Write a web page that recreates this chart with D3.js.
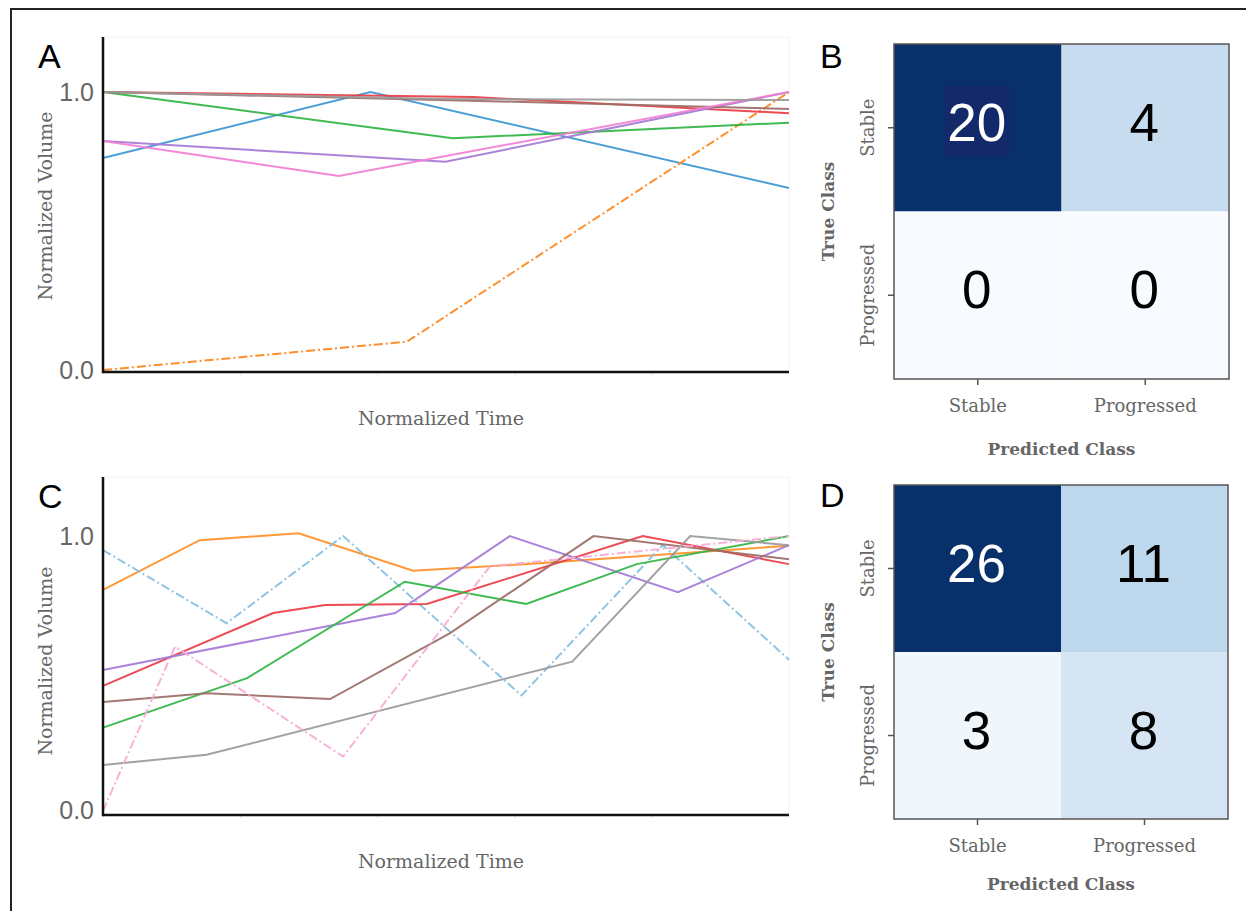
<!DOCTYPE html>
<html>
<head>
<meta charset="utf-8">
<script src="https://cdn.jsdelivr.net/npm/d3@7"></script>
<style>
  body { margin: 0; background: #fff; }
  .serif { font-family: "DejaVu Serif", serif; fill: #666; }
  .sans { font-family: "Liberation Sans", Arial, sans-serif; }
</style>
</head>
<body>
<svg id="fig" width="1246" height="911"></svg>
<script>
// 面板 A：每条曲线的时间点和体积
var timesA = [
    [0, 0.39, 1],
    [0, 0.443, 1],
    [0, 0.51, 1],
    [0, 0.54, 1],
    [0, 0.499, 1],
    [0, 0.6, 1],
    [0, 0.344, 1],
    [0, 0.5, 1]
];
var valuesA = [
    [0.763, 1.0, 0.655],
    [0.0, 0.102, 1.0],
    [1.0, 0.834, 0.89],
    [1.0, 0.982, 0.924],
    [0.824, 0.749, 1.0],
    [1.0, 0.965, 0.939],
    [0.824, 0.698, 1.0],
    [1.0, 0.975, 0.971]
];
var colorsA = ["#3d97d3", "#ff8419", "#30b443", "#ec3c44", "#a47ad6", "#9c6c66", "#f27fd2", "#9a9a9a"];
var dashA = [false, true, false, false, false, false, false, false];

// 面板 C
var timesC = [
    [0, 0.141, 0.285, 0.452, 0.63, 1],
    [0, 0.18, 0.35, 0.61, 0.816, 1],
    [0, 0.248, 0.324, 0.472, 0.787, 1],
    [0, 0.426, 0.593, 0.838, 1],
    [0, 0.21, 0.44, 0.617, 0.778, 1],
    [0, 0.151, 0.331, 0.506, 0.715, 1],
    [0, 0.151, 0.684, 0.856, 1],
    [0, 0.105, 0.35, 0.564, 1]
];
var valuesC = [
    [0.804, 0.985, 1.01, 0.874, 0.9, 0.965],
    [0.949, 0.683, 1.0, 0.42, 0.967, 0.55],
    [0.455, 0.72, 0.749, 0.753, 1.0, 0.898],
    [0.513, 0.72, 1.0, 0.796, 0.967],
    [0.303, 0.483, 0.834, 0.753, 0.898, 1.0],
    [0.396, 0.428, 0.407, 0.647, 1.0, 0.916],
    [0.167, 0.204, 0.543, 1.0, 0.967],
    [0.0, 0.598, 0.198, 0.89, 1.0]
];
var colorsC = ["#ff8f24", "#86bfe2", "#ec3c44", "#a47ad6", "#30b443", "#9c6c66", "#9a9a9a", "#f8a9d6"];
var dashC = [false, true, false, false, false, false, false, true];

var yTicks = [0, 1];
var xTicks = [0.2, 0.4, 0.6, 0.8];

// 混淆矩阵
var classes = ["Stable", "Progressed"];
var matrixB = [[20, 4], [0, 0]];
var matrixD = [[26, 11], [3, 8]];

var svg = d3.select("#fig");

// 外框（只有上边和左边）
svg.append("path")
    .attr("d", "M11,911V9H1246")
    .attr("fill", "none")
    .attr("stroke", "#222")
    .attr("stroke-width", 2);

// 折线图
function linePanel(opt) {
    var x = d3.scaleLinear().domain([0, 1]).range([103, 789]);
    var y = d3.scaleLinear().domain(opt.ydom).range([opt.bottom, opt.top]);
    var g = svg.append("g");

    // 很淡的绘图区边框
    g.append("rect")
        .attr("x", 103).attr("y", opt.top)
        .attr("width", 686).attr("height", opt.bottom - opt.top)
        .attr("fill", "none").attr("stroke", "#f4f4f4");

    var line = d3.line()
        .x(function(d) { return x(d[0]); })
        .y(function(d) { return y(d[1]); });

    opt.times.forEach(function(ts, i) {
        var pts = ts.map(function(t, j) { return [t, opt.values[i][j]]; });
        g.append("path")
            .attr("d", line(pts))
            .attr("fill", "none")
            .attr("stroke", opt.colors[i])
            .attr("stroke-opacity", 0.92)
            .attr("stroke-width", 2)
            .attr("stroke-dasharray", opt.dash[i] ? "9,3,2,3" : null);
    });

    // x 轴：淡色刻度，无标签
    var xa = g.append("g")
        .attr("transform", "translate(0," + opt.bottom + ")")
        .call(d3.axisBottom(x).tickValues(xTicks).tickSize(3).tickFormat(""));
    xa.select(".domain").remove();
    xa.selectAll("line").attr("stroke", "#ddd");

    var ya = g.append("g")
        .attr("transform", "translate(103,0)")
        .call(d3.axisLeft(y).tickValues(yTicks).tickSize(0).tickPadding(9).tickFormat(d3.format(".1f")));
    ya.select(".domain").remove();
    ya.selectAll("text")
        .attr("class", "sans")
        .attr("font-size", 25)
        .attr("fill", "#666");

    // 坐标轴线
    g.append("line")
        .attr("x1", 103).attr("x2", 789)
        .attr("y1", opt.bottom).attr("y2", opt.bottom)
        .attr("stroke", "#111").attr("stroke-width", 2.5);
    g.append("line")
        .attr("x1", 103).attr("x2", 103)
        .attr("y1", opt.top).attr("y2", opt.bottom + 1.25)
        .attr("stroke", "#111").attr("stroke-width", 2.5);

    g.append("text")
        .attr("class", "serif")
        .attr("x", 441).attr("y", opt.bottom + 53)
        .attr("text-anchor", "middle")
        .attr("font-size", 19)
        .text("Normalized Time");
    g.append("text")
        .attr("class", "serif")
        .attr("transform", "translate(52," + opt.ymid + ") rotate(-90)")
        .attr("text-anchor", "middle")
        .attr("font-size", 19)
        .text("Normalized Volume");

    g.append("text")
        .attr("class", "sans")
        .attr("x", 38).attr("y", opt.letterY)
        .attr("font-size", 34)
        .attr("fill", "#000")
        .text(opt.letter);
}

// 混淆矩阵面板
function matrixPanel(opt) {
    var x = d3.scaleBand().domain(classes).range([opt.left, opt.right]);
    var y = d3.scaleBand().domain(classes).range([opt.top, opt.bottom]);
    var maxV = d3.max(opt.matrix, function(r) { return d3.max(r); });
    var color = d3.scaleSequentialPow(d3.interpolateBlues).domain([0, maxV]).exponent(opt.exponent);
    var g = svg.append("g");

    var cells = [];
    opt.matrix.forEach(function(row, i) {
        row.forEach(function(v, j) {
            cells.push({ r: classes[i], c: classes[j], v: v, i: i, j: j });
        });
    });

    g.selectAll("rect.cell")
        .data(cells)
        .enter().append("rect")
        .attr("class", "cell")
        .attr("x", function(d) { return x(d.c); })
        .attr("y", function(d) { return y(d.r); })
        .attr("width", x.bandwidth())
        .attr("height", y.bandwidth())
        .attr("fill", function(d) { return color(d.v); });

    if (opt.boxFirst) {
        // 原图中“20”背后有一块略浅的底色
        g.append("rect")
            .attr("x", x(classes[0]) + x.bandwidth() / 2 - 33)
            .attr("y", y(classes[0]) + y.bandwidth() / 2 - 42)
            .attr("width", 65).attr("height", 70)
            .attr("fill", "#13296a");
    }

    g.selectAll("text.num")
        .data(cells)
        .enter().append("text")
        .attr("class", "num sans")
        .attr("x", function(d) { return x(d.c) + x.bandwidth() / 2 - 1; })
        .attr("y", function(d) { return y(d.r) + y.bandwidth() / 2 + 13; })
        .attr("text-anchor", "middle")
        .attr("font-size", 53)
        .attr("fill", function(d) { return d.v > maxV / 2 ? "#fff" : "#000"; })
        .text(function(d) { return d.v; });

    g.append("rect")
        .attr("x", opt.left).attr("y", opt.top)
        .attr("width", opt.right - opt.left).attr("height", opt.bottom - opt.top)
        .attr("fill", "none").attr("stroke", "#555").attr("stroke-width", 1.5);

    var xa = g.append("g")
        .attr("transform", "translate(0," + opt.bottom + ")")
        .call(d3.axisBottom(x).tickSize(6).tickPadding(14));
    xa.select(".domain").remove();
    xa.selectAll("line").attr("stroke", "#555").attr("stroke-width", 1.5);
    xa.selectAll("text").attr("class", "serif").attr("font-size", 18).attr("fill", "#666");

    var ya = g.append("g")
        .attr("transform", "translate(" + opt.left + ",0)")
        .call(d3.axisLeft(y).tickSize(6).tickFormat(""));
    ya.select(".domain").remove();
    ya.selectAll("line").attr("stroke", "#555").attr("stroke-width", 1.5);

    g.selectAll("text.ylab")
        .data(classes)
        .enter().append("text")
        .attr("class", "ylab serif")
        .attr("transform", function(d) {
            return "translate(" + (opt.left - 20) + "," + (y(d) + y.bandwidth() / 2) + ") rotate(-90)";
        })
        .attr("text-anchor", "middle")
        .attr("font-size", 18)
        .text(function(d) { return d; });

    g.append("text")
        .attr("class", "serif")
        .attr("x", (opt.left + opt.right) / 2).attr("y", opt.xTitleY)
        .attr("text-anchor", "middle")
        .attr("font-size", 17)
        .attr("font-weight", "bold")
        .text("Predicted Class");
    g.append("text")
        .attr("class", "serif")
        .attr("transform", "translate(834," + (opt.top + opt.bottom) / 2 + ") rotate(-90)")
        .attr("text-anchor", "middle")
        .attr("font-size", 17)
        .attr("font-weight", "bold")
        .text("True Class");

    g.append("text")
        .attr("class", "sans")
        .attr("x", 820).attr("y", opt.letterY)
        .attr("font-size", 34)
        .attr("fill", "#000")
        .text(opt.letter);
}

linePanel({ times: timesA, values: valuesA, colors: colorsA, dash: dashA,
    ydom: [-0.007, 1.198], top: 37, bottom: 372, ymid: 206, letter: "A", letterY: 68 });
linePanel({ times: timesC, values: valuesC, colors: colorsC, dash: dashC,
    ydom: [-0.015, 1.215], top: 477, bottom: 815, ymid: 661, letter: "C", letterY: 508 });

matrixPanel({ matrix: matrixB, left: 894, right: 1229, top: 44, bottom: 379,
    exponent: 0.9, boxFirst: true, xTitleY: 455, letter: "B", letterY: 68 });
matrixPanel({ matrix: matrixD, left: 894, right: 1228, top: 485, bottom: 819,
    exponent: 1.5, boxFirst: false, xTitleY: 890, letter: "D", letterY: 507 });
</script>
</body>
</html>
